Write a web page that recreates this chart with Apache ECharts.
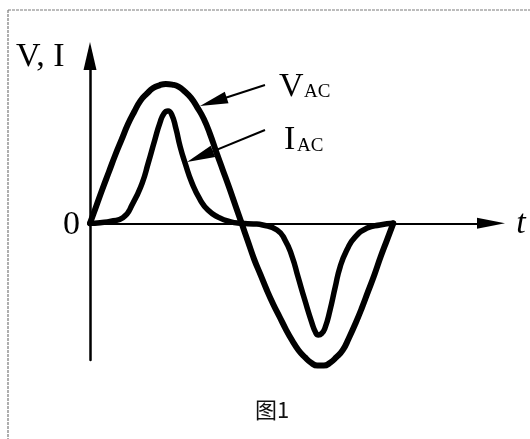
<!DOCTYPE html>
<html>
<head>
<meta charset="utf-8">
<script src="https://cdn.jsdelivr.net/npm/echarts@6/dist/echarts.min.js"></script>
<style>
html,body{margin:0;padding:0;background:#fff;}
#chart{width:530px;height:439px;}
</style>
</head>
<body>
<div id="chart"></div>
<script>
// phase angle t (degrees) vs normalised value (V peak = 1)
const vData = [
  [0, 0], [7.5, 0.125], [15, 0.25], [22.5, 0.37], [30, 0.49], [37.5, 0.6], [45, 0.71],
  [52.5, 0.8], [60, 0.88], [67.5, 0.93], [75, 0.97], [82.5, 0.99], [90, 1.0], [97.5, 0.995],
  [105, 0.98], [112.5, 0.945], [120, 0.9], [127.5, 0.83], [135, 0.75], [142.5, 0.64],
  [150, 0.51], [157.5, 0.385], [165, 0.26], [172.5, 0.13], [180, 0],
  [187.5, -0.13], [195, -0.26], [202.5, -0.37], [210, -0.48], [217.5, -0.58], [225, -0.67],
  [232.5, -0.76], [240, -0.84], [247.5, -0.91], [255, -0.96], [262.5, -1.0], [270, -1.02],
  [277.5, -1.02], [285, -1.0], [292.5, -0.96], [300, -0.91], [307.5, -0.82], [315, -0.72],
  [322.5, -0.61], [330, -0.49], [337.5, -0.37], [345, -0.24], [352.5, -0.12], [360, 0]
];
const iData = [
  [0, 0], [12, 0.005], [25, 0.015], [39, 0.04], [51, 0.145], [62, 0.29], [69, 0.43],
  [77, 0.6], [83, 0.72], [88, 0.79], [92.6, 0.806], [97, 0.78], [102, 0.68], [107, 0.55],
  [113, 0.43], [121, 0.29], [131, 0.167], [140, 0.095], [152, 0.045], [166, 0.012], [180, 0],
  [194, -0.004], [205, -0.012], [222, -0.048], [231.5, -0.12], [240, -0.24], [247, -0.385],
  [255, -0.55], [263.5, -0.715], [268, -0.785], [271, -0.8], [275, -0.79], [279, -0.75],
  [285, -0.62], [291, -0.46], [297, -0.31], [305, -0.19], [314.6, -0.098], [329, -0.034],
  [344, -0.012], [360, 0]
];
// annotation arrows: [start, end] in data units
const vArrow = [[207.7, 0.992], [146.4, 0.872]];
const iArrow = [[207.7, 0.669], [130.6, 0.478]];
// texts
const axisNameY = 'V, I';
const axisNameX = 't';
const zeroLabel = '0';
const vLabel = ['V', 'AC'];
const iLabel = ['I', 'AC'];
const caption = '图1';

const chart = echarts.init(document.getElementById('chart'), null, {renderer: 'canvas'});
const serif = '"Liberation Serif", "DejaVu Serif", serif';
const arrowSize = [12, 28];

chart.setOption({
  animation: false,
  backgroundColor: '#fff',
  grid: {left: 90, right: 39, top: 56, bottom: 79, containLabel: false},
  xAxis: {
    type: 'value', min: 0, max: 476,
    axisLine: {show: true, onZero: true, symbol: ['none', 'triangle'], symbolSize: [11, 28],
      lineStyle: {color: '#000', width: 2}},
    axisTick: {show: false}, axisLabel: {show: false}, splitLine: {show: false}
  },
  yAxis: {
    type: 'value', min: -0.98, max: 1.2,
    axisLine: {show: true, symbol: ['none', 'triangle'], symbolSize: [13, 28],
      lineStyle: {color: '#000', width: 2.5}},
    axisTick: {show: false}, axisLabel: {show: false}, splitLine: {show: false}
  },
  series: [
    {
      type: 'line', data: vData, smooth: 0.5, symbol: 'none', clip: false,
      lineStyle: {color: '#000', width: 6, cap: 'round', join: 'round'},
      emphasis: {disabled: true}, silent: true,
      markLine: {
        silent: true, animation: false,
        symbol: ['none', 'triangle'],
        label: {show: false},
        itemStyle: {color: '#000'},
        lineStyle: {type: 'solid', color: '#000', width: 2},
        emphasis: {disabled: true},
        data: [
          [{coord: vArrow[0]}, {coord: vArrow[1], symbolSize: arrowSize}],
          [{coord: iArrow[0]}, {coord: iArrow[1], symbolSize: arrowSize}]
        ]
      }
    },
    {
      type: 'line', data: iData, smooth: 0.55, symbol: 'none', clip: false,
      lineStyle: {color: '#000', width: 5.5, cap: 'round', join: 'round'},
      emphasis: {disabled: true}, silent: true
    }
  ],
  graphic: [
    {type: 'line', shape: {x1: 8, y1: 10, x2: 530, y2: 10},
      style: {stroke: '#7a7a7a', lineWidth: 1.2, lineDash: [3, 1]}},
    {type: 'line', shape: {x1: 8, y1: 10, x2: 8, y2: 439},
      style: {stroke: '#7a7a7a', lineWidth: 1.2, lineDash: [3, 1]}},
    {type: 'text', x: 16, y: 57, style: {text: axisNameY, font: '34px ' + serif, fill: '#000', align: 'left', verticalAlign: 'middle'}},
    {type: 'text', x: 71.5, y: 225, style: {text: zeroLabel, font: '34px ' + serif, fill: '#000', align: 'center', verticalAlign: 'middle'}},
    {type: 'text', x: 521, y: 224, style: {text: axisNameX, font: 'italic 34px ' + serif, fill: '#000', align: 'center', verticalAlign: 'middle'}},
    {type: 'text', x: 279, y: 87, style: {text: vLabel[0], font: '34px ' + serif, fill: '#000', align: 'left', verticalAlign: 'middle'}},
    {type: 'text', x: 304, y: 92, style: {text: vLabel[1], font: '19px ' + serif, fill: '#000', align: 'left', verticalAlign: 'middle'}},
    {type: 'text', x: 284, y: 140, style: {text: iLabel[0], font: '34px ' + serif, fill: '#000', align: 'left', verticalAlign: 'middle'}},
    {type: 'text', x: 297, y: 146, style: {text: iLabel[1], font: '19px ' + serif, fill: '#000', align: 'left', verticalAlign: 'middle'}},
    {type: 'text', x: 272, y: 410, style: {text: caption, font: '22px "Noto Sans CJK SC", sans-serif', fill: '#111', align: 'center', verticalAlign: 'middle'}}
  ]
});
</script>
</body>
</html>
